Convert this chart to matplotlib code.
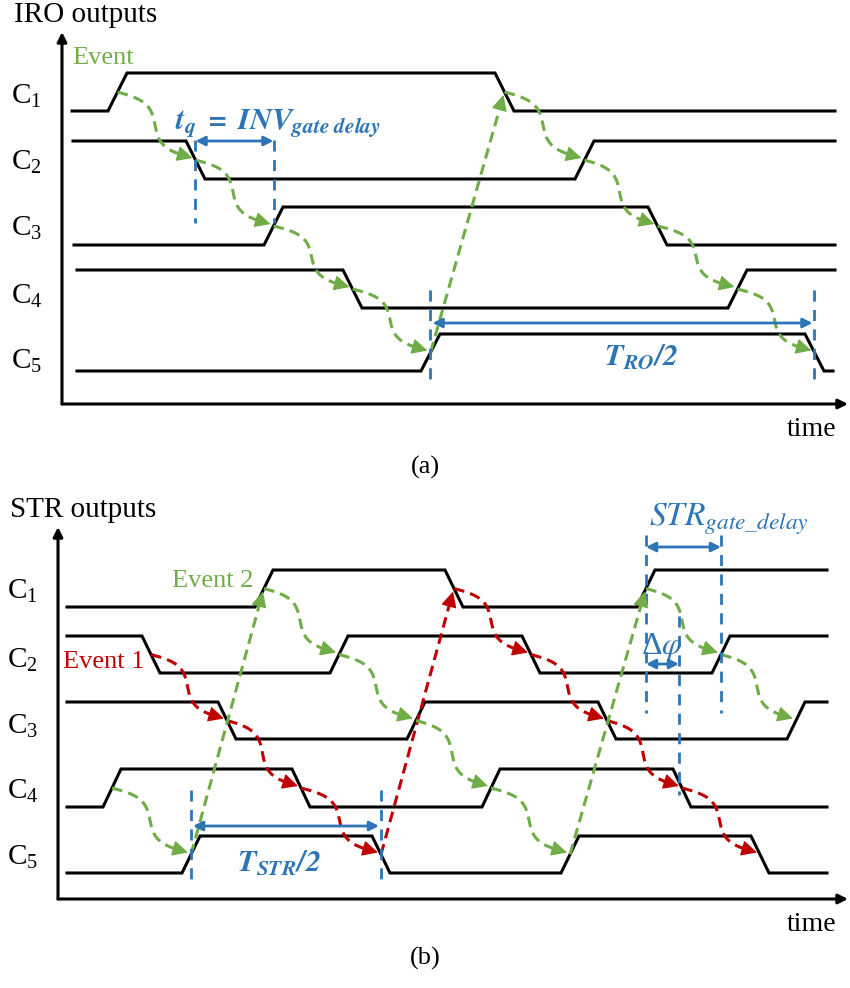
import numpy as np
import matplotlib.pyplot as plt

plt.rcParams['font.family'] = 'Liberation Serif'
plt.rcParams['mathtext.fontset'] = 'stix'
plt.rcParams['mathtext.default'] = 'regular'

GREEN = '#70AD47'
RED = '#C00000'
BLUE = '#2E75B6'

# ---- panel (a): IRO outputs (time / level units of the drawing) ----
iro_low = [293, 225, 159, 96, 33]
iro_high = [331, 263, 197, 134, 70]
iro_init_high = [False, True, False, True, False]
iro_start = [10, 11, 12, 15, 15]
iro_end = [773, 773, 773, 773, 771]
iro_edges = [[46, 433], [124, 513], [202, 586], [281, 666], [359, 743]]
iro_edge_w = 19
iro_event = [(1, 46), (2, 124), (3, 202), (4, 281), (5, 359),
             (1, 433), (2, 513), (3, 586), (4, 666), (5, 743)]
iro_label_y = [308, 242, 176, 108, 43]

# ---- panel (b): STR outputs ----
str_low = [292, 226, 160, 92, 26]
str_high = [329, 263, 197, 130, 63]
str_init_high = [False, True, True, False, False]
str_start = [9, 9, 9, 9, 9]
str_end = [769, 769, 769, 769, 769]
str_edges = [[197, 387, 579], [84, 272, 464, 654], [160, 349, 540, 729],
             [45, 234, 424, 615], [124, 314, 503, 693]]
str_edge_w = 18
str_event1 = [(2, 84), (3, 160), (4, 234), (5, 314), (1, 387),
              (2, 464), (3, 540), (4, 615), (5, 693)]
str_event2 = [(4, 45), (5, 124), (1, 197), (2, 272), (3, 349),
              (4, 424), (5, 503), (1, 579), (2, 654), (3, 729)]
str_label_y = [308, 239, 173, 108, 42]


def draw_waves(ax, low, high, init, start, end, edges, w):
    for i in range(len(low)):
        state = init[i]
        xs = [start[i]]
        ys = [high[i] if state else low[i]]
        for e in edges[i]:
            xs += [e, e + w]
            ys += [high[i] if state else low[i], low[i] if state else high[i]]
            state = not state
        xs.append(end[i])
        ys.append(high[i] if state else low[i])
        ax.plot(xs, ys, color='k', lw=2.2, solid_joinstyle='miter', clip_on=False)


def mid(ch, t, low, high, w):
    return np.array([t + w / 2, (low[ch - 1] + high[ch - 1]) / 2])


def event_arrow(ax, p0, p1, color, curved):
    s = np.linspace(0, 1, 160)
    d = p1 - p0
    if curved:
        # S-shaped hop: leaves to the right, drops, lands down-right
        f = s + 0.75 * np.sin(2 * np.pi * s) / (2 * np.pi)
        g = s - 0.45 * np.sin(2 * np.pi * s) / (2 * np.pi)
    else:
        f = g = s
    pts = np.column_stack([p0[0] + d[0] * f, p0[1] + d[1] * g])
    dist = np.hypot(*(pts - p1).T)
    body = pts[dist > 11]
    ax.plot(body[:, 0], body[:, 1], color=color, lw=2.2,
            ls=(0, (3.5, 2)), clip_on=False)
    back = pts[np.argmin(np.abs(dist - 13))]
    ax.annotate('', xy=p1, xytext=back,
                arrowprops=dict(arrowstyle='-|>', color=color, lw=1,
                                mutation_scale=24, shrinkA=0, shrinkB=0))


def draw_chain(ax, chain, low, high, w, color):
    pts = [mid(c, t, low, high, w) for c, t in chain]
    for k in range(len(chain) - 1):
        curved = chain[k + 1][0] > chain[k][0]
        end = pts[k + 1] + (np.array([-3, 2]) if curved else np.array([-1, -3]))
        event_arrow(ax, pts[k], end, color, curved)


def vmark(ax, x, y0, y1):
    ax.plot([x, x], [y0, y1], color=BLUE, lw=2, ls=(0, (4, 3)), clip_on=False)


def span(ax, x0, x1, y):
    ax.annotate('', xy=(x1, y), xytext=(x0, y),
                arrowprops=dict(arrowstyle='<|-|>', color=BLUE, lw=2,
                                mutation_scale=14, shrinkA=0, shrinkB=0))


def frame(ax, xmax, ymax, title, label_y):
    ax.set_xlim(0, xmax)
    ax.set_ylim(0, 384)
    ax.axis('off')
    arrow = dict(arrowstyle='-|>', color='k', lw=2.2, mutation_scale=14,
                 shrinkA=0, shrinkB=0)
    ax.annotate('', xy=(0, ymax), xytext=(0, 0), arrowprops=arrow)
    ax.annotate('', xy=(xmax - 2, 0), xytext=(0, 0), arrowprops=arrow)
    ax.text(-48, 389, title, fontsize=21, va='center', ha='left')
    ax.text(xmax - 38, -25, 'time', fontsize=20, va='center', ha='center')
    for i, y in enumerate(label_y):
        ax.text(-51, y, 'C$_{%d}$' % (i + 1), fontsize=21, va='center', ha='left')


fig = plt.figure(figsize=(8.5, 9.88), dpi=100)

# ---------------- panel (a)
ax_a = fig.add_axes([62 / 850, 1 - 404 / 988, 788 / 850, 384 / 988])
frame(ax_a, 788, 372, 'IRO outputs', iro_label_y)
draw_waves(ax_a, iro_low, iro_high, iro_init_high, iro_start, iro_end,
           iro_edges, iro_edge_w)
draw_chain(ax_a, iro_event, iro_low, iro_high, iro_edge_w, GREEN)
ax_a.text(10, 346, 'Event', color=GREEN, fontsize=19, va='center', ha='left')

tq = [iro_edges[1][0] + iro_edge_w / 2, iro_edges[2][0] + iro_edge_w / 2]
vmark(ax_a, tq[0], 264, 181)
vmark(ax_a, tq[1], 264, 181)
span(ax_a, tq[0], tq[1], 263)
ax_a.text(216, 281, r'$\mathbfit{t_q\ =\ INV_{gate\ delay}}$', color=BLUE,
          fontsize=22, ha='center', va='center')

tro = [iro_edges[4][0] + iro_edge_w / 2, iro_edges[4][1] + iro_edge_w / 2]
vmark(ax_a, tro[0], 114, 21)
vmark(ax_a, tro[1], 114, 21)
span(ax_a, tro[0] + 2, tro[1] - 2, 81)
ax_a.text(579, 47, r'$\mathbfit{T_{RO}/2}$', color=BLUE, fontsize=22,
          ha='center', va='center')

# ---------------- panel (b)
ax_b = fig.add_axes([58 / 850, 1 - 899 / 988, 792 / 850, 384 / 988])
frame(ax_b, 792, 372, 'STR outputs', str_label_y)
draw_waves(ax_b, str_low, str_high, str_init_high, str_start, str_end,
           str_edges, str_edge_w)
draw_chain(ax_b, str_event1, str_low, str_high, str_edge_w, RED)
draw_chain(ax_b, str_event2, str_low, str_high, str_edge_w, GREEN)
ax_b.text(5, 237, 'Event 1', color=RED, fontsize=19, va='center', ha='left')
ax_b.text(114, 318, 'Event 2', color=GREEN, fontsize=19, va='center', ha='left')

tstr = [str_edges[4][0] + str_edge_w / 2, str_edges[4][1] + str_edge_w / 2]
vmark(ax_b, tstr[0], 109, 17)
vmark(ax_b, tstr[1], 109, 17)
span(ax_b, tstr[0] + 2, tstr[1] - 2, 73)
ax_b.text(221, 36, r'$\mathbfit{T_{STR}/2}$', color=BLUE, fontsize=22,
          ha='center', va='center')

gd = [str_edges[0][2] + str_edge_w / 2, str_edges[1][3] + str_edge_w / 2]
vmark(ax_b, gd[0], 364, 186)
vmark(ax_b, gd[1], 364, 186)
span(ax_b, gd[0], gd[1], 352)
ax_b.text(671, 380, r'$\mathit{STR_{gate\_delay}}$', color=BLUE, fontsize=24,
          ha='center', va='center')

dphi = str_edges[3][3] + str_edge_w / 2 - 3
vmark(ax_b, dphi, 283, 104)
span(ax_b, gd[0], dphi, 235)
ax_b.text(604, 245, r'$\Delta\mathit{\varphi}$', color=BLUE, fontsize=23,
          ha='center', va='baseline')

fig.text(425 / 850, 1 - 467 / 988, '(a)', fontsize=19, ha='center', va='center')
fig.text(425 / 850, 1 - 958 / 988, '(b)', fontsize=19, ha='center', va='center')

fig.savefig('out.png', dpi=100)
